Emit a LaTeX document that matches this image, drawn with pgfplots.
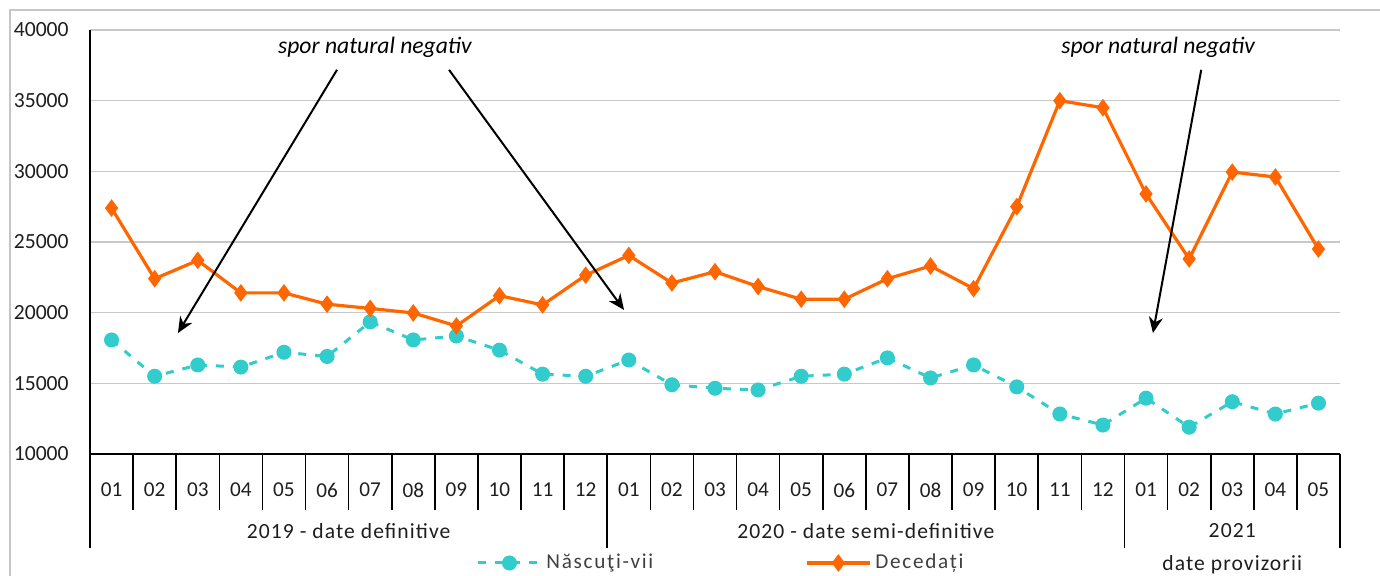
\documentclass[border=0pt]{standalone}
\usepackage{pgfplots}
\pgfplotsset{compat=1.18}
\usepackage{pgfplotstable}
\usepackage{fontspec}
\setmainfont{Carlito}
\newfontfamily\spaced[LetterSpace=5]{Carlito}
\newfontfamily\spacedL[LetterSpace=8]{Carlito}
\usetikzlibrary{arrows.meta}
\definecolor{teal1}{RGB}{51,204,204}
\definecolor{orange1}{RGB}{255,102,0}
\definecolor{gridgray}{RGB}{200,200,200}
\definecolor{txt}{RGB}{30,30,30}

\pgfplotstableread{
x nasc dec
0 18070 27400
1 15500 22400
2 16300 23700
3 16150 21400
4 17200 21400
5 16900 20600
6 19350 20300
7 18070 19980
8 18350 19060
9 17350 21200
10 15650 20550
11 15500 22650
12 16650 24050
13 14900 22100
14 14650 22900
15 14530 21850
16 15500 20950
17 15650 20950
18 16800 22400
19 15380 23300
20 16300 21700
21 14750 27500
22 12830 35000
23 12050 34500
24 13950 28400
25 11900 23800
26 13700 29950
27 12830 29600
28 13600 24500
}\datatable

\begin{document}
\begin{tikzpicture}
\begin{axis}[
  at={(0,0)}, anchor=south west,
  width=625pt, height=212pt, scale only axis,
  xmin=-0.5, xmax=28.5, ymin=10000, ymax=40000,
  clip=false,
  axis lines=left,
  axis line style={-, black, line width=0.8pt},
  ytick={10000,15000,...,40000},
  ymajorgrids,
  grid style={gridgray, line width=0.8pt},
  major tick length=0pt,
  xtick={0,...,28},
  xticklabels={01,02,03,04,05,06,07,08,09,10,11,12,01,02,03,04,05,06,07,08,09,10,11,12,01,02,03,04,05},
  minor xtick={-0.5,0.5,...,28.5},
  minor tick length=28pt,
  tick align=outside,
  minor tick style={black, line width=0.8pt},
  scaled y ticks=false,
  /pgf/number format/assume math mode=true,
  yticklabel={\pgfmathprintnumber[fixed,1000 sep={}]{\tick}},
  yticklabel style={font=\fontsize{10.8}{12}\selectfont, text=txt, inner sep=0pt, anchor=east, xshift=-10.5pt},
  xticklabel style={font=\fontsize{10.6}{12}\selectfont, text=txt, inner sep=0pt, anchor=center, yshift=-18pt},
  legend style={draw=none, fill=none, at={(0.5056,-0.257)}, anchor=center,
    legend columns=2, font=\spacedL\fontsize{10.6}{12}\selectfont, text=black!75,
    /tikz/every even column/.append style={column sep=74pt}, inner sep=0pt},
  legend cell align=left,
  legend image code/.code={\draw[mark repeat=2,mark phase=2,#1] plot coordinates {(0pt,0pt) (15.75pt,0pt) (31.5pt,0pt)};},
]
\addplot[teal1, line width=1.5pt, dash pattern=on 4pt off 4.5pt, mark=*, mark size=3pt, mark options={solid, fill=teal1, draw=teal1}] table[x=x, y=nasc] {\datatable};
\addlegendentry{Născuţi-vii}
\addplot[orange1, line width=1.6pt, mark=diamond*, mark size=3.1pt, mark options={solid, fill=orange1, draw=orange1}] table[x=x, y=dec] {\datatable};
\addlegendentry{Decedați}

% group separators
\draw[black, line width=0.8pt] (axis cs:-0.5,10000) -- ++(0pt,-47pt);
\draw[black, line width=0.8pt] (axis cs:11.5,10000) -- ++(0pt,-47pt);
\draw[black, line width=0.8pt] (axis cs:23.5,10000) -- ++(0pt,-47pt);
\draw[black, line width=0.8pt] (axis cs:28.5,10000) -- ++(0pt,-47pt);
\node[font=\spaced\fontsize{10.8}{12}\selectfont, text=txt] at ([yshift=-38.5pt]axis cs:5.5,10000) {2019 - date definitive};
\node[font=\spaced\fontsize{10.8}{12}\selectfont, text=txt] at ([yshift=-38.5pt]axis cs:17.5,10000) {2020 - date semi-definitive};
\node[font=\spaced\fontsize{10.8}{12}\selectfont, text=txt] at ([yshift=-38.5pt]axis cs:26,10000) {2021};
\node[font=\spaced\fontsize{10.8}{12}\selectfont, text=txt] at ([yshift=-55.5pt]axis cs:26,10000) {date provizorii};

% annotations
\node[font=\fontsize{11.8}{13}\itshape, text=black] at (axis cs:6.11,38800) {spor natural negativ};
\node[font=\fontsize{11.8}{13}\itshape, text=black] at (axis cs:24.28,38800) {spor natural negativ};
\draw[black, line width=1pt, -{Stealth[length=8pt,width=7pt]}] (axis cs:5.23,37180) -- (axis cs:1.54,18560);
\draw[black, line width=1pt, -{Stealth[length=8pt,width=7pt]}] (axis cs:7.83,37180) -- (axis cs:11.89,20190);
\draw[black, line width=1pt, -{Stealth[length=8pt,width=7pt]}] (axis cs:25.28,37180) -- (axis cs:24.16,18560);
\end{axis}
\draw[gray!45, line width=1pt] (-40pt,-62pt) -- (-40pt,222pt) -- (647pt,222pt);
\pgfresetboundingbox
\path[use as bounding box] (-45pt,-60.5pt) rectangle (645pt,227pt);
\end{tikzpicture}
\end{document}
